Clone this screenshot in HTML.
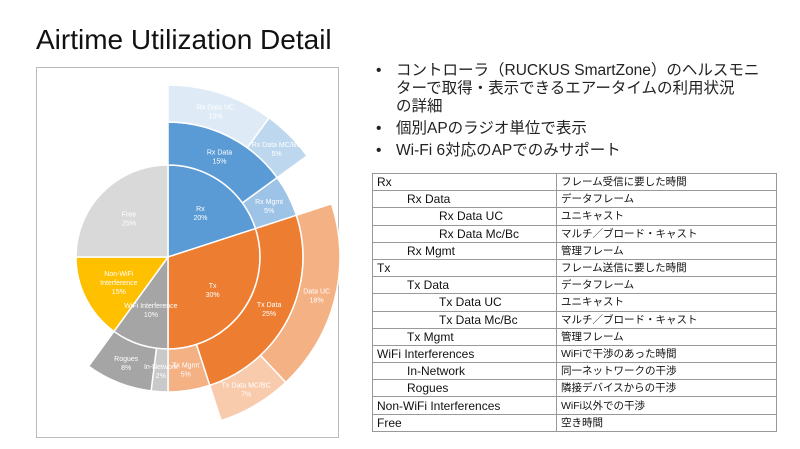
<!DOCTYPE html>
<html><head><meta charset="utf-8"><style>
body{margin:0;width:800px;height:449px;background:#fff;font-family:"Liberation Sans","Noto Sans CJK JP",sans-serif;position:relative;overflow:hidden}
h1{position:absolute;left:36px;top:24px;margin:0;font-weight:normal;font-size:28px;color:#111}
#frame{position:absolute;left:36px;top:67px;width:301px;height:369px;border:1px solid #bbb}
svg{position:absolute;left:0;top:0}
ul{position:absolute;left:372px;top:62px;margin:0;padding:0;list-style:none;font-size:15.5px;color:#222;line-height:18px}
ul li{position:relative;padding-left:24px;margin-bottom:4px;width:410px;white-space:nowrap}
ul li:before{content:"•";position:absolute;left:4px}
table{position:absolute;left:372px;top:173px;width:404px;table-layout:fixed;border-collapse:collapse;font-size:12px;color:#111}
td{border:1px solid #999;height:16.2px;padding:0 4px;line-height:14px;white-space:nowrap;overflow:hidden}
td:last-child{font-size:10.5px}
.l1{padding-left:34px}.l2{padding-left:66px}
</style></head><body>
<h1>Airtime Utilization Detail</h1>
<div id="frame"></div>
<svg id="s" width="800" height="449"></svg>
<ul>
<li>コントローラ（RUCKUS SmartZone）のヘルスモニ<br>ターで取得・表示できるエアータイムの利用状況<br>の詳細</li>
<li>個別APのラジオ単位で表示</li>
<li>Wi-Fi 6対応のAPでのみサポート</li>
</ul>
<table>
<colgroup><col style="width:184px"><col style="width:220px"></colgroup>
<tr><td>Rx</td><td>フレーム受信に要した時間</td></tr>
<tr><td class="l1">Rx Data</td><td>データフレーム</td></tr>
<tr><td class="l2">Rx Data UC</td><td>ユニキャスト</td></tr>
<tr><td class="l2">Rx Data Mc/Bc</td><td>マルチ／ブロード・キャスト</td></tr>
<tr><td class="l1">Rx Mgmt</td><td>管理フレーム</td></tr>
<tr><td>Tx</td><td>フレーム送信に要した時間</td></tr>
<tr><td class="l1">Tx Data</td><td>データフレーム</td></tr>
<tr><td class="l2">Tx Data UC</td><td>ユニキャスト</td></tr>
<tr><td class="l2">Tx Data Mc/Bc</td><td>マルチ／ブロード・キャスト</td></tr>
<tr><td class="l1">Tx Mgmt</td><td>管理フレーム</td></tr>
<tr><td>WiFi Interferences</td><td>WiFiで干渉のあった時間</td></tr>
<tr><td class="l1">In-Network</td><td>同一ネットワークの干渉</td></tr>
<tr><td class="l1">Rogues</td><td>隣接デバイスからの干渉</td></tr>
<tr><td>Non-WiFi Interferences</td><td>WiFi以外での干渉</td></tr>
<tr><td>Free</td><td>空き時間</td></tr>
</table>
<script>
var cx=168,cy=257,R=[0,92,135,172];
var segs=[
[0,0,72,'#5b9bd5','Rx','20%'],[0,72,180,'#ed7d31','Tx','30%'],[0,180,216,'#a5a5a5','WiFi Interference','10%'],
[0,216,270,'#ffc000','Non-WiFi|Interference','15%'],[0,270,360,'#d9d9d9','Free','25%'],
[1,0,54,'#5b9bd5','Rx Data','15%'],[1,54,72,'#9dc3e6','Rx Mgmt','5%'],[1,72,162,'#ed7d31','Tx Data','25%'],
[1,162,180,'#f4b183','Tx Mgmt','5%'],[1,180,187.2,'#c9c9c9','In-Network','2%'],[1,187.2,216,'#a5a5a5','Rogues','8%'],
[2,0,36,'#deebf7','Rx Data UC','10%'],[2,36,54,'#bdd7ee','Rx Data MC/BC','5%'],
[2,72,136.8,'#f4b183','Data UC','18%'],[2,136.8,162,'#f8cbad','Tx Data MC/BC','7%']];
function p(r,a){a=a*Math.PI/180;return [cx+r*Math.sin(a),cy-r*Math.cos(a)];}
var h='';
segs.forEach(function(s){
 var r0=R[s[0]],r1=R[s[0]+1],a0=s[1],a1=s[2],lg=(a1-a0)>180?1:0,d;
 var A=p(r1,a0),B=p(r1,a1);
 if(r0==0){d='M'+cx+','+cy+'L'+A+'A'+r1+','+r1+' 0 '+lg+' 1 '+B+'Z';}
 else{var C=p(r0,a1),D=p(r0,a0);d='M'+D+'L'+A+'A'+r1+','+r1+' 0 '+lg+' 1 '+B+'L'+C+'A'+r0+','+r0+' 0 '+lg+' 0 '+D+'Z';}
 h+='<path d="'+d+'" fill="'+s[3]+'" stroke="#fff" stroke-width="1.5"/>';
});
segs.forEach(function(s){
 var r0=R[s[0]],r1=R[s[0]+1],m=(s[1]+s[2])/2,rr=r0==0?r1*0.6:(r0+r1)/2;
 var q=p(rr,m),lines=s[4].split('|').concat([s[5]]);
 lines.forEach(function(t,i){h+='<text x="'+q[0]+'" y="'+(q[1]+(i-(lines.length-1)/2)*9+3)+'" font-size="7" fill="#fff" text-anchor="middle" font-family="Liberation Sans,sans-serif">'+t+'</text>';});
});
document.getElementById('s').innerHTML=h;
</script>
</body></html>
